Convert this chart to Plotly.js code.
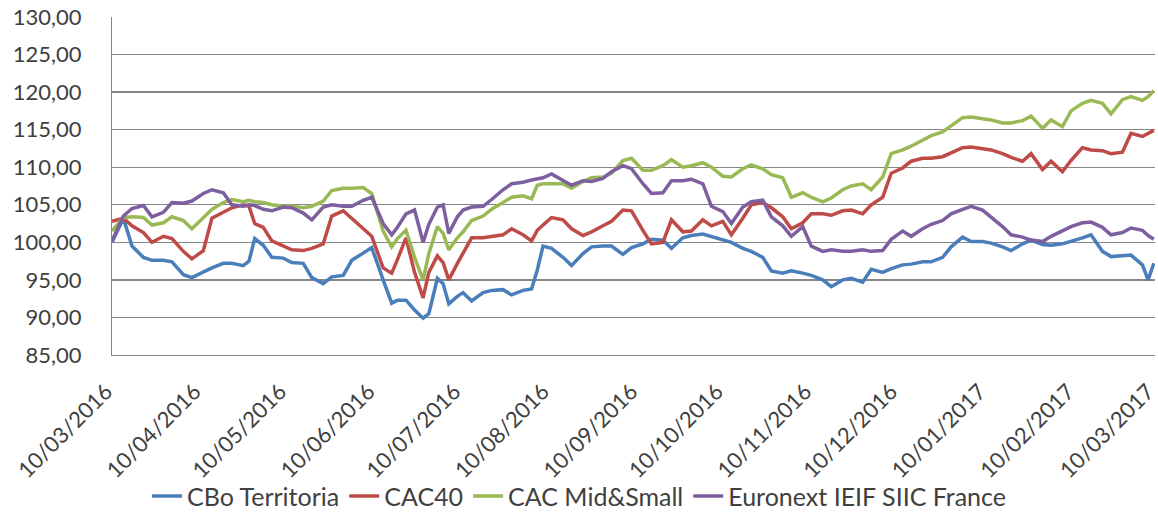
<!DOCTYPE html>
<html>
<head>
<meta charset="utf-8">
<script src="https://cdn.plot.ly/plotly-3.0.1.min.js"></script>
<style>html,body{margin:0;padding:0;background:#fff;}#chart{width:1158px;height:517px;}</style>
</head>
<body>
<div id="chart"></div>
<script>
const dates = ["2016-03-10","2016-03-14","2016-03-17","2016-03-21","2016-03-24","2016-03-28","2016-03-31","2016-04-04","2016-04-07","2016-04-11","2016-04-14","2016-04-18","2016-04-21","2016-04-25","2016-04-27","2016-04-29","2016-05-02","2016-05-05","2016-05-09","2016-05-12","2016-05-16","2016-05-19","2016-05-23","2016-05-26","2016-05-30","2016-06-02","2016-06-06","2016-06-09","2016-06-13","2016-06-16","2016-06-18","2016-06-21","2016-06-24","2016-06-27","2016-06-29","2016-07-02","2016-07-04","2016-07-06","2016-07-09","2016-07-11","2016-07-14","2016-07-18","2016-07-21","2016-07-25","2016-07-28","2016-08-01","2016-08-04","2016-08-06","2016-08-08","2016-08-11","2016-08-15","2016-08-18","2016-08-22","2016-08-25","2016-08-29","2016-09-01","2016-09-05","2016-09-08","2016-09-12","2016-09-15","2016-09-19","2016-09-22","2016-09-26","2016-09-29","2016-10-03","2016-10-06","2016-10-10","2016-10-13","2016-10-17","2016-10-20","2016-10-24","2016-10-27","2016-10-31","2016-11-03","2016-11-07","2016-11-10","2016-11-14","2016-11-17","2016-11-21","2016-11-24","2016-11-28","2016-12-01","2016-12-05","2016-12-08","2016-12-12","2016-12-15","2016-12-19","2016-12-22","2016-12-26","2016-12-29","2017-01-02","2017-01-05","2017-01-09","2017-01-12","2017-01-16","2017-01-19","2017-01-23","2017-01-26","2017-01-30","2017-02-02","2017-02-06","2017-02-09","2017-02-13","2017-02-16","2017-02-20","2017-02-23","2017-02-27","2017-03-02","2017-03-06","2017-03-08","2017-03-10"];

const cboTerritoria = [100.0,103.2,99.5,98.0,97.6,97.6,97.4,95.7,95.3,96.1,96.6,97.2,97.2,96.9,97.5,100.5,99.6,98.0,97.9,97.3,97.2,95.3,94.5,95.4,95.6,97.6,98.6,99.3,95.0,91.9,92.3,92.3,91.0,89.9,90.5,95.2,94.5,91.8,92.8,93.3,92.2,93.3,93.6,93.7,93.0,93.6,93.8,96.3,99.5,99.2,98.0,96.9,98.5,99.4,99.5,99.5,98.4,99.3,99.8,100.4,100.3,99.2,100.6,100.9,101.1,100.8,100.3,100.0,99.2,98.8,98.0,96.2,95.9,96.2,95.9,95.6,95.0,94.1,95.0,95.2,94.7,96.4,96.0,96.5,97.0,97.1,97.4,97.4,98.0,99.4,100.7,100.1,100.1,99.9,99.4,98.9,99.8,100.3,99.7,99.6,99.8,100.1,100.6,101.0,98.8,98.1,98.2,98.3,97.0,95.0,97.2];

const cac40 = [102.8,103.2,102.2,101.3,100.0,100.8,100.5,98.8,97.8,98.9,103.2,104.0,104.6,105.0,104.8,102.5,102.0,100.2,99.5,99.0,98.9,99.2,99.8,103.5,104.2,103.2,101.8,100.8,96.6,95.9,97.7,100.6,96.0,92.6,96.0,98.2,97.3,95.0,97.2,98.5,100.6,100.6,100.8,101.0,101.8,101.0,100.2,101.6,102.3,103.3,103.0,101.8,100.9,101.4,102.2,102.8,104.3,104.2,101.6,99.8,100.0,103.0,101.4,101.5,103.0,102.2,102.8,101.0,103.2,105.0,105.3,104.6,103.4,101.8,102.6,103.8,103.8,103.6,104.2,104.3,103.8,105.0,106.0,109.2,109.9,110.8,111.2,111.2,111.4,111.9,112.6,112.7,112.5,112.3,111.8,111.3,110.8,111.8,109.7,110.8,109.4,110.9,112.6,112.3,112.2,111.8,112.0,114.5,114.1,114.5,114.9];

const cacMidSmall = [101.5,103.3,103.4,103.3,102.3,102.6,103.4,102.9,101.8,103.3,104.4,105.3,105.7,105.4,105.6,105.4,105.3,105.0,104.8,104.8,104.6,104.8,105.5,106.9,107.2,107.2,107.3,106.5,101.5,99.4,100.5,101.6,98.0,95.0,98.5,102.1,101.2,99.0,100.6,101.4,102.9,103.5,104.4,105.3,106.0,106.2,105.8,107.6,107.8,107.8,107.8,107.2,108.1,108.6,108.7,109.2,110.9,111.2,109.6,109.6,110.2,111.0,110.0,110.2,110.6,110.0,108.8,108.7,109.8,110.3,109.8,109.0,108.6,106.0,106.6,106.0,105.4,105.9,107.0,107.5,107.8,107.0,108.7,111.8,112.3,112.8,113.6,114.2,114.7,115.5,116.6,116.7,116.5,116.3,115.9,115.9,116.2,116.8,115.2,116.3,115.4,117.5,118.5,118.9,118.5,117.1,119.0,119.4,118.9,119.4,120.2];

const euronextSiic = [100.2,103.5,104.5,104.9,103.4,104.0,105.3,105.2,105.5,106.5,107.0,106.6,105.0,104.8,105.0,104.9,104.4,104.2,104.7,104.6,103.9,103.0,104.7,105.0,104.8,104.8,105.6,106.0,102.5,101.0,102.0,103.8,104.3,100.0,102.4,104.7,105.0,101.2,103.4,104.3,104.7,104.8,105.7,107.0,107.8,108.0,108.3,108.4,108.6,109.1,108.3,107.6,108.2,108.1,108.5,109.4,110.2,109.8,107.8,106.5,106.6,108.2,108.2,108.4,107.8,104.8,104.1,102.5,104.7,105.4,105.6,103.4,102.2,100.8,102.1,99.5,98.8,99.0,98.8,98.8,99.0,98.8,98.9,100.4,101.5,100.8,101.8,102.4,102.9,103.8,104.4,104.8,104.3,103.4,102.1,101.0,100.7,100.3,100.1,100.8,101.5,102.1,102.6,102.7,102.0,101.0,101.3,101.9,101.6,100.9,100.4];

const seriesNames = ["CBo Territoria", "CAC40", "CAC Mid&Small", "Euronext IEIF SIIC France"];
const seriesColors = ["#4a7ebb", "#be4b48", "#98b954", "#7d5fa0"];
const tickDates = ["2016-03-10","2016-04-10","2016-05-10","2016-06-10","2016-07-10","2016-08-10","2016-09-10","2016-10-10","2016-11-10","2016-12-10","2017-01-10","2017-02-10","2017-03-10"];

const allValues = [cboTerritoria, cac40, cacMidSmall, euronextSiic];
const traces = allValues.map((vals, i) => ({
  type: "scatter",
  mode: "lines",
  x: dates,
  y: vals,
  name: seriesNames[i],
  line: {color: seriesColors[i], width: 3.5, shape: "linear"},
  hoverinfo: "x+y+name"
}));

const layout = {
  width: 1158,
  height: 517,
  margin: {l: 112, r: 3, t: 17, b: 162},
  paper_bgcolor: "#ffffff",
  plot_bgcolor: "#ffffff",
  separators: ",.",
  font: {family: "Lato, 'Open Sans', sans-serif", color: "#404040", size: 20},
  showlegend: true,
  xaxis: {
    type: "date",
    range: ["2016-03-10", "2017-03-10 10:00"],
    tickmode: "array",
    tickvals: tickDates,
    tickformat: "%d/%m/%Y",
    tickangle: -45,
    ticklabeloverflow: "allow",
    ticklabelshift: -6,
    showgrid: false,
    zeroline: false,
    showline: true,
    linecolor: "#868686",
    linewidth: 1,
    ticks: "",
    tickfont: {size: 22, color: "#404040"},
    ticklabelstandoff: 14
  },
  yaxis: {
    range: [85, 130],
    tick0: 85,
    dtick: 5,
    tickformat: ".2f",
    showgrid: true,
    gridcolor: "#868686",
    gridwidth: 1.3,
    zeroline: false,
    showline: true,
    linecolor: "#868686",
    linewidth: 1,
    ticks: "",
    tickfont: {size: 22, color: "#404040"},
    ticklabelstandoff: 25
  },
  legend: {
    orientation: "h",
    xref: "container",
    yref: "container",
    x: 0.5,
    xanchor: "center",
    y: 0.04,
    yanchor: "middle",
    font: {size: 25, color: "#404040"},
    bgcolor: "rgba(0,0,0,0)",
    tracegroupgap: 0
  }
};

Plotly.newPlot("chart", traces, layout, {displayModeBar: false, staticPlot: true});
</script>
</body>
</html>
